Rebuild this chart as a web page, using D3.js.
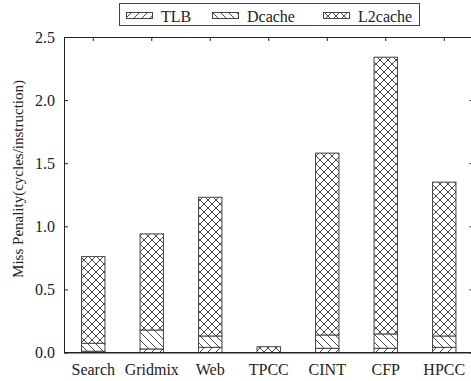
<!DOCTYPE html>
<html>
<head>
<meta charset="utf-8">
<script src="https://cdn.jsdelivr.net/npm/d3@7"></script>
<style>
  html, body { margin: 0; padding: 0; background: #fff; }
  svg { display: block; }
  text { font-family: "Liberation Serif", "Times New Roman", serif; fill: #222; }
</style>
</head>
<body>
<svg id="chart" width="471" height="381"></svg>
<script>
// Benchmarks along the x axis
const categories = ["Search", "Gridmix", "Web", "TPCC", "CINT", "CFP", "HPCC"];
// Miss penalty components (cycles/instruction), stacked bottom to top
const tlb    = [0.010, 0.028, 0.041, 0.000, 0.033, 0.033, 0.041];
const dcache = [0.063, 0.150, 0.090, 0.000, 0.106, 0.114, 0.090];
const l2     = [0.687, 0.762, 1.099, 0.046, 1.441, 2.193, 1.219];
const seriesNames = ["TLB", "Dcache", "L2cache"];
const yTicks = [0, 0.5, 1.0, 1.5, 2.0, 2.5];

const rows = categories.map((c, i) => ({ cat: c, TLB: tlb[i], Dcache: dcache[i], L2cache: l2[i] }));

const svg = d3.select("#chart");
const plotLeft = 64, plotRight = 473.5, plotTop = 37, plotBottom = 352.5;
const fontSize = 16;

const x = d3.scaleBand().domain(categories).range([plotLeft, plotRight]).paddingInner(0.6).paddingOuter(0.3);
const y = d3.scaleLinear().domain([0, 2.5]).range([plotBottom, plotTop]);

// Hatch patterns
const defs = svg.append("defs");
const stroke = "#333";
function pattern(id, draw) {
  const p = defs.append("pattern").attr("id", id).attr("patternUnits", "userSpaceOnUse")
    .attr("width", 8).attr("height", 8);
  p.append("rect").attr("width", 8).attr("height", 8).attr("fill", "#fff");
  draw(p);
}
pattern("hatch-TLB", p => {
  p.append("path").attr("d", "M0,8 L8,0 M-2,2 L2,-2 M6,10 L10,6").attr("stroke", stroke).attr("stroke-width", 0.9);
});
pattern("hatch-Dcache", p => {
  p.append("path").attr("d", "M0,0 L8,8 M-2,6 L2,10 M6,-2 L10,2").attr("stroke", stroke).attr("stroke-width", 0.9);
});
pattern("hatch-L2cache", p => {
  p.append("path").attr("d", "M0,0 L8,8 M-2,6 L2,10 M6,-2 L10,2 M0,8 L8,0 M-2,2 L2,-2 M6,10 L10,6")
    .attr("stroke", stroke).attr("stroke-width", 0.9);
});

// Axes (ticks point inward)
const axisColor = "#222";
const gx = svg.append("g").attr("transform", `translate(0,${plotBottom})`)
  .call(d3.axisBottom(x).tickSizeInner(-4).tickSizeOuter(0).tickFormat(""));
const gxTop = svg.append("g").attr("transform", `translate(0,${plotTop})`)
  .call(d3.axisTop(x).tickSizeInner(-4).tickSizeOuter(0).tickFormat(""));
const gy = svg.append("g").attr("transform", `translate(${plotLeft},0)`)
  .call(d3.axisLeft(y).tickValues(yTicks).tickSizeInner(-4).tickSizeOuter(0).tickPadding(9).tickFormat(d3.format(".1f")));
const gyRight = svg.append("g").attr("transform", `translate(${plotRight},0)`)
  .call(d3.axisRight(y).tickValues(yTicks).tickSizeInner(-4).tickSizeOuter(0).tickFormat(""));
[gx, gxTop, gy, gyRight].forEach(g => {
  g.selectAll("path.domain").attr("stroke", axisColor).attr("stroke-width", 1);
  g.selectAll(".tick line").attr("stroke", axisColor);
});
gy.selectAll("text").attr("font-size", fontSize).attr("font-family", "Liberation Serif").attr("fill", "#222");

// Category labels
svg.append("g").selectAll("text").data(categories).join("text")
  .attr("x", d => x(d) + x.bandwidth() / 2)
  .attr("y", 375)
  .attr("text-anchor", "middle")
  .attr("font-size", fontSize)
  .text(d => d);

// Stacked bars
const stacked = d3.stack().keys(seriesNames)(rows);
svg.append("g").selectAll("g").data(stacked).join("g")
  .attr("fill", d => `url(#hatch-${d.key})`)
  .selectAll("rect").data(d => d).join("rect")
  .attr("x", d => x(d.data.cat))
  .attr("width", x.bandwidth())
  .attr("y", d => y(d[1]))
  .attr("height", d => Math.max(0, y(d[0]) - y(d[1])))
  .attr("stroke", "#444")
  .attr("stroke-width", 1);

// Baseline redrawn over bar edges
svg.append("line").attr("x1", plotLeft).attr("x2", plotRight).attr("y1", plotBottom).attr("y2", plotBottom)
  .attr("stroke", axisColor);

// Y axis title
svg.append("text")
  .attr("transform", `translate(23,80) rotate(-90)`)
  .attr("text-anchor", "end")
  .attr("font-size", 15)
  .text("Miss Penality(cycles/instruction)");

// Legend
const legend = svg.append("g");
legend.append("rect").attr("x", 119.5).attr("y", 3.5).attr("width", 300).attr("height", 22)
  .attr("fill", "#fff").attr("stroke", "#444");
const legendX = [126, 212, 323];
seriesNames.forEach((name, i) => {
  legend.append("rect").attr("x", legendX[i] + 0.5).attr("y", 12.5).attr("width", 26).attr("height", 6)
    .attr("fill", `url(#hatch-${name})`).attr("stroke", "#444");
  legend.append("text").attr("x", legendX[i] + 35).attr("y", 22).attr("font-size", fontSize).text(name);
});
</script>
</body>
</html>
